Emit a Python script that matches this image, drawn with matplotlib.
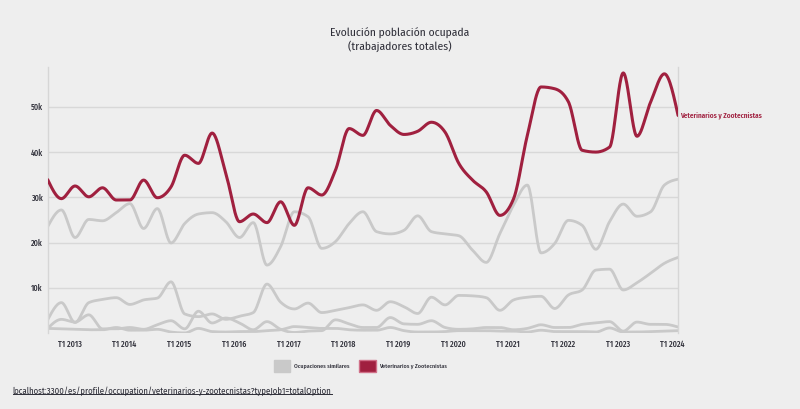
import numpy as np
import matplotlib
matplotlib.use("Agg")
import matplotlib.pyplot as plt
from matplotlib.patches import Patch
from matplotlib.lines import Line2D
from matplotlib.ticker import FuncFormatter
import matplotlib.transforms as mtransforms

plt.rcParams['font.family'] = ['Fira Sans Condensed', 'Roboto', 'DejaVu Sans']

# trimestres desde T3 2012 hasta T1 2024
periodos = np.arange(47)
anios = list(range(2013, 2025))
etiquetas_x = [f"T1 {a}" for a in anios]

veterinarios = [33.9, 29.7, 32.5, 30.1, 32.1, 29.4, 29.4, 33.8, 29.9, 32.3,
                39.3, 37.5, 44.2, 35.3, 24.6, 26.3, 24.4, 29.0, 23.8, 32.1,
                30.5, 36.0, 45.2, 43.7, 49.2, 45.9, 43.9, 44.6, 46.6, 44.4,
                37.5, 33.8, 31.2, 26.0, 29.7, 43.7, 54.4, 54.0, 51.1, 40.4,
                40.0, 41.1, 57.5, 43.5, 51.1, 57.3, 48.1]

similares = [
    [23.5, 27.2, 21.1, 25.1, 24.8, 26.6, 28.6, 23.1, 27.5, 19.9,
     24.2, 26.3, 26.6, 24.6, 21.1, 24.4, 15.0, 19.1, 26.8, 25.7,
     18.7, 20.2, 24.2, 26.8, 22.4, 21.9, 22.7, 25.9, 22.4, 21.9,
     21.5, 18.3, 15.6, 22.0, 28.3, 32.7, 17.7, 19.8, 24.9, 23.8,
     18.5, 24.6, 28.5, 25.8, 26.8, 32.7, 34.0],
    [2.9, 6.7, 2.3, 6.7, 7.4, 7.8, 6.3, 7.3, 7.7, 11.3,
     4.2, 3.6, 4.2, 3.0, 3.7, 4.5, 10.8, 6.8, 5.3, 6.6,
     4.5, 5.0, 5.6, 6.2, 5.0, 6.9, 5.8, 4.3, 7.9, 6.2,
     8.3, 8.2, 7.8, 5.0, 7.3, 7.9, 8.1, 5.4, 8.4, 9.5,
     13.9, 14.1, 9.5, 11.1, 13.2, 15.4, 16.7],
    [1.0, 3.0, 2.4, 4.0, 0.9, 0.9, 1.2, 0.8, 1.8, 2.7,
     0.9, 4.8, 2.2, 3.3, 2.2, 0.7, 2.5, 0.8, 0.1, 0.4,
     0.5, 2.9, 2.0, 1.2, 1.2, 3.4, 2.0, 1.9, 2.7, 1.2,
     0.8, 0.9, 1.2, 1.2, 0.7, 1.0, 1.8, 1.2, 1.2, 1.9,
     2.2, 2.5, 0.4, 2.4, 1.9, 1.9, 1.3],
    [1.0, 0.9, 0.8, 0.7, 0.7, 1.2, 0.6, 0.6, 0.8, 0.2,
     0.0, 1.0, 0.3, 0.2, 0.3, 0.3, 0.5, 0.7, 1.4, 1.2,
     1.0, 1.0, 0.7, 0.6, 0.6, 1.2, 0.5, 0.2, 0.2, 0.3,
     0.5, 0.5, 0.5, 0.4, 0.4, 0.2, 0.6, 0.3, 0.3, 0.3,
     0.2, 1.1, 0.2, 0.2, 0.3, 0.4, 0.5],
]

ROJO = "#a0203f"
GRIS = "#c9c9c9"
FONDO = "#eeeeee"


def curva_monotona(x, y, n=24):
    # interpolacion monotona tipo d3.curveMonotoneX
    x = np.asarray(x, float)
    y = np.asarray(y, float)
    h = np.diff(x)
    s = np.diff(y) / h
    t = np.zeros(len(x))
    for i in range(1, len(x) - 1):
        p = (s[i - 1] * h[i] + s[i] * h[i - 1]) / (h[i - 1] + h[i])
        t[i] = (np.sign(s[i - 1]) + np.sign(s[i])) * min(abs(s[i - 1]), abs(s[i]), 0.5 * abs(p))
    t[0] = (3 * s[0] - t[1]) / 2
    t[-1] = (3 * s[-1] - t[-2]) / 2
    xs, ys = [], []
    for i in range(len(x) - 1):
        u = np.linspace(0, 1, n, endpoint=False)
        h00 = 2 * u**3 - 3 * u**2 + 1
        h10 = u**3 - 2 * u**2 + u
        h01 = -2 * u**3 + 3 * u**2
        h11 = u**3 - u**2
        xs.append(x[i] + u * h[i])
        ys.append(h00 * y[i] + h10 * h[i] * t[i] + h01 * y[i + 1] + h11 * h[i] * t[i + 1])
    xs.append([x[-1]])
    ys.append([y[-1]])
    return np.concatenate(xs), np.concatenate(ys)


fig = plt.figure(figsize=(8, 4.09), dpi=100, facecolor=FONDO)
ax = fig.add_axes([0.0596, 0.186, 0.788, 0.65], facecolor=FONDO)

for serie in similares:
    cx, cy = curva_monotona(periodos, np.array(serie) * 1000)
    ax.plot(cx, cy, color=GRIS, lw=2, solid_capstyle='round', zorder=2)

cx, cy = curva_monotona(periodos, np.array(veterinarios) * 1000)
ax.plot(cx, cy, color=ROJO, lw=2.2, solid_capstyle='round', zorder=3)

ax.text(periodos[-1] + 0.15, veterinarios[-1] * 1000, "Veterinarios y Zootecnistas",
        color=ROJO, fontsize=5.2, fontweight='semibold', va='center', ha='left')

ax.set_xlim(periodos[0], periodos[-1])
ax.set_ylim(0, 58800)
ax.set_yticks([10000, 20000, 30000, 40000, 50000])
ax.yaxis.set_major_formatter(FuncFormatter(lambda v, p: f"{int(v / 1000)}k"))
ax.set_xticks([(a - 2012) * 4 - 2 for a in anios])
ax.set_xticklabels(etiquetas_x)
ax.grid(axis='y', color="#d8d8d8", lw=1)
ax.set_axisbelow(True)
ax.tick_params(axis='both', length=0, labelsize=5.8, colors="#2e2e38")
ax.tick_params(axis='x', pad=5)
ax.tick_params(axis='y', pad=3.5)
for lab in ax.get_xticklabels() + ax.get_yticklabels():
    lab.set_fontweight('medium')
desplaza = mtransforms.ScaledTranslation(-4 / 72, 0, fig.dpi_scale_trans)
for lab in ax.get_xticklabels():
    lab.set_transform(lab.get_transform() + desplaza)
for lado in ['top', 'bottom']:
    ax.spines[lado].set_visible(False)
for lado in ['left', 'right']:
    ax.spines[lado].set_color("#d6d6d6")
    ax.spines[lado].set_linewidth(1)

fig.text(0.5, 0.902, "Evolución población ocupada\n(trabajadores totales)",
         ha='center', va='center', fontsize=8.3, color="#2e2e38", linespacing=1.1)

manijas = [Patch(facecolor=GRIS, edgecolor=GRIS), Patch(facecolor=ROJO, edgecolor="#d07088")]
ley = fig.legend(manijas, ["Ocupaciones similares", "Veterinarios y Zootecnistas"],
                 loc='center', bbox_to_anchor=(0.451, 0.105), ncol=2, frameon=False,
                 fontsize=4.3, handlelength=2.7, handleheight=2.7, columnspacing=1.6,
                 handletextpad=0.65, labelcolor="#2e2e38")
for t in ley.get_texts():
    t.set_fontweight('medium')

url = fig.text(0.016, 0.044, "localhost:3300/es/profile/occupation/veterinarios-y-zootecnistas?typeJob1=totalOption",
               fontsize=6.3, color="#2e2e38", ha='left', va='center')
fig.canvas.draw()
bb = url.get_window_extent().transformed(fig.transFigure.inverted())
fig.add_artist(Line2D([bb.x0, bb.x1], [bb.y0 + 0.004, bb.y0 + 0.004], color="#2e2e38", lw=0.7,
                      transform=fig.transFigure))

fig.savefig("out.png", dpi=100, facecolor=FONDO)
